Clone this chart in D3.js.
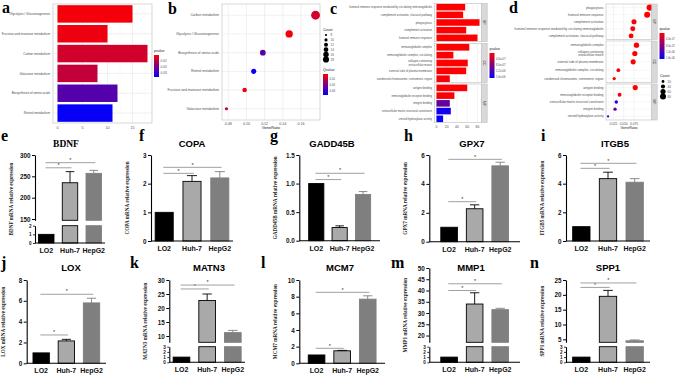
<!DOCTYPE html>
<html>
<head>
<meta charset="utf-8">
<script src="https://cdn.jsdelivr.net/npm/d3@7"></script>
<style>
  body { margin: 0; background: #fff; }
  text { font-family: "Liberation Sans", Arial, sans-serif; }
</style>
</head>
<body>
<svg id="fig" width="676" height="377"></svg>
<script>
// ---------- KEGG (panels a, b) ----------
const keggTerms = ["Glycolysis / Gluconeogenesis", "Fructose and mannose metabolism", "Carbon metabolism",
                   "Galactose metabolism", "Biosynthesis of amino acids", "Retinol metabolism"];
const keggCount = [15, 10, 18, 8, 12, 11];
const keggP     = [0.002, 0.003, 0.007, 0.009, 0.025, 0.036];
const keggRatio = [0.147, 0.098, 0.176, 0.078, 0.118, 0.108];
const keggTicks = [0, 5, 10, 15];
const ratioTicks = [0.08, 0.10, 0.12, 0.14, 0.16];
const pLegendTicks = [0.01, 0.02, 0.03];

// ---------- GO (panels c, d) ----------
const goOnt = ["BP","BP","BP","BP","BP","CC","CC","CC","CC","CC","MF","MF","MF","MF","MF"];
const goTerms = [
  "humoral immune response mediated by circulating immunoglobulin", "complement activation, classical pathway",
  "phagocytosis", "complement activation", "humoral immune response",
  "immunoglobulin complex", "immunoglobulin complex, circulating", "collagen-containing\nextracellular matrix",
  "external side of plasma membrane", "condensed chromosome, centromeric region",
  "antigen binding", "immunoglobulin receptor binding", "integrin binding",
  "extracellular matrix structural constituent", "steroid hydroxylase activity"];
const goCount = [56, 52, 84, 58, 80, 64, 33, 61, 58, 26, 60, 35, 26, 28, 13];
const goRatio = [0.072, 0.068, 0.113, 0.075, 0.107, 0.081, 0.037, 0.077, 0.073, 0.027, 0.078, 0.040, 0.029, 0.032, 0.012];
const goP     = [2e-8, 2e-8, 1e-8, 2e-8, 1e-8, 1e-8, 5e-8, 1e-8, 2e-8, 6e-8, 1e-8, 5e-8, 1.0e-6, 1.55e-6, 1.6e-6];
const goCountTicks = [0, 20, 40, 60, 80];
const goRatioTicks = [0.025, 0.050, 0.075];
const goLegendTicks = [4e-7, 8e-7, 1.2e-6, 1.6e-6];
const goSizeTicks = [20, 40, 60, 80];

// ---------- qPCR (panels e - n) ----------
const cellLines = ["LO2", "Huh-7", "HepG2"];
const genes = ["BDNF", "COPA", "GADD45B", "GPX7", "ITGB5", "LOX", "MATN3", "MCM7", "MMP1", "SPP1"];
const means = [[1, 235, 257], [1, 2.08, 2.2], [1, 0.23, 0.81], [1, 2.28, 5.25], [1, 4.35, 4.1],
               [1, 2.15, 5.8], [1, 22.7, 11.2], [1, 1.5, 7.7], [1, 34, 31.5], [1, 19.5, 4.5]];
const errs  = [[0, 26, 7], [0, 0.2, 0.22], [0, 0.03, 0.05], [0, 0.27, 0.25], [0, 0.45, 0.25],
               [0, 0.15, 0.45], [0, 2.3, 0.8], [0, 0.05, 0.4], [0, 5, 0.6], [0, 2, 0.3]];
// significance bars: [height of LO2-vs-Huh-7, height of LO2-vs-HepG2]
const sigY  = [[270, 282], [2.36, 2.57], [1.07, 1.18], [2.77, 5.7], [5.07, 5.42],
               [2.72, 6.63], [26.8, 28.2], [1.8, 8.52], [40, 43], [22.5, 24]];
const barTicks = [
  [[0, 1, 2], [150, 200, 250, 300]], [[0, 1, 2, 3]], [[0, 0.5, 1.0, 1.5]], [[0, 2, 4, 6]], [[0, 2, 4, 6]],
  [[0, 2, 4, 6, 8]], [[0, 1, 2, 3], [10, 15, 20, 25, 30]], [[0, 2, 4, 6, 8, 10]],
  [[0, 1, 2, 3], [20, 25, 30, 35, 40, 45, 50]], [[0, 1, 2, 3], [5, 10, 15, 20, 25]]];

const svg = d3.select("#fig");
const grey30 = "#4d4d4d";
const pColor = d3.scaleLinear().range(["#ff0000", "#0000ff"]).interpolate(d3.interpolateRgb);
const expFmt = t => t.toExponential(1).replace(/e([+-])(\d)$/, "e$10$2");

function letter(t, x, y) {
  svg.append("text").attr("x", x).attr("y", y).text(t)
    .style("font-family", "'Liberation Serif', serif").style("font-weight", "bold").style("font-size", "16px");
}

function panelFrame(g, x0, x1, y0, y1) {
  g.append("rect").attr("x", x0).attr("y", y0).attr("width", x1 - x0).attr("height", y1 - y0)
    .attr("fill", "#fff").attr("stroke", "#bdbdbd").attr("stroke-width", 0.6);
}

function colorbar(g, x, y, h, title, dom, ticks, fmt, fs) {
  const id = "grad" + Math.round(x);
  const grad = svg.append("defs").append("linearGradient").attr("id", id)
    .attr("x1", 0).attr("y1", 0).attr("x2", 0).attr("y2", 1);
  grad.append("stop").attr("offset", "0%").attr("stop-color", "#ff0000");
  grad.append("stop").attr("offset", "100%").attr("stop-color", "#0000ff");
  g.append("text").attr("x", x).attr("y", y - 3).text(title).style("font-size", "3.6px").attr("fill", "#222");
  g.append("rect").attr("x", x).attr("y", y).attr("width", 5).attr("height", h).attr("fill", `url(#${id})`);
  const s = d3.scaleLinear().domain(dom).range([y, y + h]);
  ticks.forEach(t => {
    g.append("text").attr("x", x + 6.5).attr("y", s(t) + 1).text(fmt(t))
      .style("font-size", fs || "3.2px").attr("fill", grey30);
  });
}

// ================= panel a =================
(function () {
  const g = svg.append("g");
  const x = d3.scaleLinear().domain([-0.9, 18.9]).range([53, 152]);
  const y = d3.scaleBand().domain(keggTerms).range([4, 123]).paddingInner(0.12).paddingOuter(0.06);
  pColor.domain([0.0005, 0.037]);
  panelFrame(g, 53, 152, 4, 123);
  [2.5, 7.5, 12.5, 17.5].forEach(t => g.append("line").attr("x1", x(t)).attr("x2", x(t)).attr("y1", 4).attr("y2", 123)
    .attr("stroke", "#f3f3f3").attr("stroke-width", 0.4));
  keggTicks.forEach(t => g.append("line").attr("x1", x(t)).attr("x2", x(t)).attr("y1", 4).attr("y2", 123)
    .attr("stroke", "#e6e6e6").attr("stroke-width", 0.6));
  keggTerms.forEach(t => g.append("line").attr("x1", 53).attr("x2", 152).attr("y1", y(t) + y.bandwidth() / 2)
    .attr("y2", y(t) + y.bandwidth() / 2).attr("stroke", "#e6e6e6").attr("stroke-width", 0.6));
  g.selectAll(".bar").data(keggTerms).join("rect")
    .attr("x", x(0)).attr("y", d => y(d)).attr("height", y.bandwidth())
    .attr("width", (d, i) => x(keggCount[i]) - x(0)).attr("fill", (d, i) => pColor(keggP[i]));
  g.selectAll(".lab").data(keggTerms).join("text")
    .attr("x", 50).attr("y", d => y(d) + y.bandwidth() / 2 + 1.1).attr("text-anchor", "end")
    .text(d => d).style("font-size", "3.1px").attr("fill", grey30);
  keggTicks.forEach(t => g.append("text").attr("x", x(t)).attr("y", 128.5).attr("text-anchor", "middle")
    .text(t).style("font-size", "3.6px").attr("fill", grey30));
  colorbar(g, 154, 55, 22, "pvalue", [0.0005, 0.037], pLegendTicks, d3.format(".2f"));
  letter("a", 2, 13);
})();

// ================= panel b =================
(function () {
  const g = svg.append("g");
  const order = d3.range(keggTerms.length).sort((a, b) => keggRatio[b] - keggRatio[a]);
  const x = d3.scaleLinear().domain([0.0731, 0.1809]).range([222, 320]);
  const y = d3.scalePoint().domain(order.map(i => keggTerms[i])).range([4, 120]).padding(0.6);
  const r = d3.scaleSqrt().domain([8, 18]).range([1.6, 4.4]);
  panelFrame(g, 222, 320, 4, 120);
  ratioTicks.forEach(t => g.append("line").attr("x1", x(t)).attr("x2", x(t)).attr("y1", 4).attr("y2", 120)
    .attr("stroke", "#e6e6e6").attr("stroke-width", 0.6));
  y.domain().forEach(t => g.append("line").attr("x1", 222).attr("x2", 320).attr("y1", y(t)).attr("y2", y(t))
    .attr("stroke", "#e6e6e6").attr("stroke-width", 0.6));
  order.forEach(i => {
    g.append("circle").attr("cx", x(keggRatio[i])).attr("cy", y(keggTerms[i])).attr("r", r(keggCount[i]))
      .attr("fill", pColor(keggP[i]));
    g.append("text").attr("x", 219).attr("y", y(keggTerms[i]) + 1.1).attr("text-anchor", "end")
      .text(keggTerms[i]).style("font-size", "3.3px").attr("fill", grey30);
  });
  ratioTicks.forEach(t => g.append("text").attr("x", x(t)).attr("y", 124.5).attr("text-anchor", "middle")
    .text(d3.format(".2f")(t)).style("font-size", "3.6px").attr("fill", grey30));
  g.append("text").attr("x", 271).attr("y", 129).attr("text-anchor", "middle").text("GeneRatio")
    .style("font-size", "3.8px").attr("fill", "#222");
  g.append("text").attr("x", 323).attr("y", 31).text("Count").style("font-size", "3.6px").attr("fill", "#222");
  [8, 10, 12, 14, 16, 18].forEach((c, k) => {
    const cy = 35 + k * 4.9;
    g.append("circle").attr("cx", 326).attr("cy", cy).attr("r", r(c) * 0.7).attr("fill", "#000");
    g.append("text").attr("x", 330.5).attr("y", cy + 1.1).text(c).style("font-size", "3px").attr("fill", grey30);
  });
  colorbar(g, 323, 74, 21, "Qvalue", [0.0005, 0.037], pLegendTicks, d3.format(".2f"), "2.9px");
  letter("b", 168, 14);
})();

// ================= GO helpers =================
const facetNames = ["BP", "CC", "MF"];
function strip(g, x, y0, y1, name) {
  g.append("rect").attr("x", x).attr("y", y0).attr("width", 5.5).attr("height", y1 - y0)
    .attr("fill", "#d9d9d9").attr("stroke", "#bdbdbd").attr("stroke-width", 0.5);
  g.append("text").attr("transform", `translate(${x + 1.6},${(y0 + y1) / 2}) rotate(90)`).attr("text-anchor", "middle")
    .text(name).style("font-size", "3.4px").attr("fill", "#222");
}
function termLabel(g, x, y, t, fs) {
  const lines = t.split("\n");
  lines.forEach((l, k) => g.append("text").attr("x", x).attr("y", y + 1 + (k - (lines.length - 1) / 2) * 3.4)
    .attr("text-anchor", "end").text(l).style("font-size", fs + "px").attr("fill", grey30));
}

// ================= panel c =================
(function () {
  const g = svg.append("g");
  const x = d3.scaleLinear().domain([-4.2, 88.2]).range([434.3, 481.7]);
  const col = d3.scaleLinear().domain([0, 1.65e-6]).range(["#ff0000", "#0000ff"]);
  const facetY = [[3.3, 41.7], [43.3, 82.7], [84, 122.7]];
  facetNames.forEach((f, fi) => {
    const idx = d3.range(goTerms.length).filter(i => goOnt[i] === f);
    const y = d3.scaleBand().domain(idx).range(facetY[fi]).paddingInner(0.15).paddingOuter(0.08);
    panelFrame(g, 434.3, 481.7, facetY[fi][0], facetY[fi][1]);
    goCountTicks.forEach(t => g.append("line").attr("x1", x(t)).attr("x2", x(t)).attr("y1", facetY[fi][0])
      .attr("y2", facetY[fi][1]).attr("stroke", "#e6e6e6").attr("stroke-width", 0.5));
    idx.forEach(i => {
      g.append("rect").attr("x", x(0)).attr("y", y(i)).attr("height", y.bandwidth())
        .attr("width", x(goCount[i]) - x(0)).attr("fill", col(goP[i]));
      termLabel(g, 432, y(i) + y.bandwidth() / 2, goTerms[i], 2.8);
    });
    strip(g, 481.7, facetY[fi][0], facetY[fi][1], f);
  });
  goCountTicks.forEach(t => g.append("text").attr("x", x(t)).attr("y", 127.5).attr("text-anchor", "middle")
    .text(t).style("font-size", "3.4px").attr("fill", grey30));
  colorbar(g, 489.5, 53, 25, "pvalue", [0, 1.65e-6], goLegendTicks, expFmt, "2.8px");
  letter("c", 330, 14);
})();

// ================= panel d =================
(function () {
  const g = svg.append("g");
  const x = d3.scaleLinear().domain([0.007, 0.118]).range([606, 651.7]);
  const col = d3.scaleLinear().domain([0, 1.65e-6]).range(["#ff0000", "#0000ff"]);
  const r = d3.scaleSqrt().domain([13, 84]).range([1.1, 3.1]);
  const facetY = [[4, 39.5], [41, 82.7], [84, 120]];
  facetNames.forEach((f, fi) => {
    const idx = d3.range(goTerms.length).filter(i => goOnt[i] === f).sort((a, b) => goRatio[b] - goRatio[a]);
    const y = d3.scalePoint().domain(idx).range(facetY[fi]).padding(0.5);
    panelFrame(g, 606, 651.7, facetY[fi][0], facetY[fi][1]);
    goRatioTicks.forEach(t => g.append("line").attr("x1", x(t)).attr("x2", x(t)).attr("y1", facetY[fi][0])
      .attr("y2", facetY[fi][1]).attr("stroke", "#e6e6e6").attr("stroke-width", 0.5));
    idx.forEach(i => {
      g.append("line").attr("x1", 606).attr("x2", 651.7).attr("y1", y(i)).attr("y2", y(i))
        .attr("stroke", "#ececec").attr("stroke-width", 0.4);
      g.append("circle").attr("cx", x(goRatio[i])).attr("cy", y(i)).attr("r", r(goCount[i])).attr("fill", col(goP[i]));
      termLabel(g, 603.5, y(i), goTerms[i], 3.0);
    });
    strip(g, 651.7, facetY[fi][0], facetY[fi][1], f);
  });
  goRatioTicks.forEach(t => g.append("text").attr("x", x(t)).attr("y", 124.5).attr("text-anchor", "middle")
    .text(d3.format(".3f")(t)).style("font-size", "3.2px").attr("fill", grey30));
  g.append("text").attr("x", 629).attr("y", 129).attr("text-anchor", "middle").text("GeneRatio")
    .style("font-size", "3.6px").attr("fill", "#222");
  colorbar(g, 659.5, 33, 26, "qvalue", [0, 1.65e-6], goLegendTicks, expFmt, "2.6px");
  g.append("text").attr("x", 660).attr("y", 77).text("Count").style("font-size", "3.6px").attr("fill", "#222");
  goSizeTicks.forEach((c, k) => {
    const cy = 81.5 + k * 5;
    g.append("circle").attr("cx", 663).attr("cy", cy).attr("r", r(c)).attr("fill", "#000");
    g.append("text").attr("x", 667.5).attr("y", cy + 1.1).text(c).style("font-size", "3px").attr("fill", grey30);
  });
  letter("d", 509, 13);
})();

// ================= qPCR bar panels =================
const barFill = ["#000000", "#a9a9a9", "#7f7f7f"];
const barStroke = ["#000000", "#000000", "#7f7f7f"];
const barLayout = [
  { l: "e", lx: 1,   ly: 141, x0: 35,    x1: 105, outer: 0.15, tx: 66,  ty: 147, segs: [[243, 225.7, 0, 2], [220.3, 155, 147, 300]] },
  { l: "f", lx: 139, ly: 141, x0: 151,   x1: 233, outer: 0.15, tx: 192, ty: 147, segs: [[241, 155, 0, 3]] },
  { l: "g", lx: 270, ly: 141, x0: 299.3, x1: 380, outer: 0.4,  tx: 332, ty: 147, segs: [[240.7, 155, 0, 1.5]] },
  { l: "h", lx: 404, ly: 141, x0: 429.3, x1: 520, outer: 0.45, tx: 472, ty: 147, segs: [[241.7, 155, 0, 6]] },
  { l: "i", lx: 541, ly: 141, x0: 566,   x1: 650, outer: 0.25, tx: 615, ty: 147, segs: [[241, 155, 0, 6]] },
  { l: "j", lx: 1,   ly: 268, x0: 26.7,  x1: 106, outer: 0.25, tx: 71,  ty: 271, segs: [[363.3, 280, 0, 8]] },
  { l: "k", lx: 130, ly: 268, x0: 169.3, x1: 245, outer: 0.15, tx: 209, ty: 271, segs: [[362.3, 346.7, 0, 3], [342.3, 280, 7.75, 30]] },
  { l: "l", lx: 261, ly: 268, x0: 299.3, x1: 385, outer: 0.35, tx: 340, ty: 271, segs: [[363.3, 280, 0, 10]] },
  { l: "m", lx: 391, ly: 268, x0: 429.3, x1: 520, outer: 0.45, tx: 471, ty: 271, segs: [[362.3, 346.7, 0, 3], [342.3, 268, 17, 50]] },
  { l: "n", lx: 530, ly: 268, x0: 566,   x1: 650, outer: 0.25, tx: 608, ty: 271, segs: [[362.3, 346.7, 0, 3], [342.3, 280, 4, 25]] }
];

genes.forEach((gene, gi) => {
  const L = barLayout[gi];
  const g = svg.append("g");
  const x = d3.scaleBand().domain(cellLines).range([L.x0, L.x1]).paddingInner(0.35).paddingOuter(L.outer);
  const ys = L.segs.map(s => d3.scaleLinear().domain([s[2], s[3]]).range([s[0], s[1]]));
  const top = ys[ys.length - 1];
  const yOf = v => { for (const s of ys) if (v <= s.domain()[1]) return s(v); return top(v); };

  // bars, split across axis segments
  cellLines.forEach((c, ci) => {
    const v = means[gi][ci];
    ys.forEach(s => {
      const [lo, hi] = s.domain();
      if (v <= lo) return;
      const vt = Math.min(v, hi);
      g.append("rect").attr("x", x(c)).attr("width", x.bandwidth())
        .attr("y", s(vt)).attr("height", s(lo) - s(vt))
        .attr("fill", barFill[ci]).attr("stroke", barStroke[ci]).attr("stroke-width", 0.9);
    });
    const e = errs[gi][ci];
    if (e > 0) {
      const cx = x(c) + x.bandwidth() / 2, w = x.bandwidth() * 0.28;
      g.append("line").attr("x1", cx).attr("x2", cx).attr("y1", yOf(v)).attr("y2", yOf(v + e))
        .attr("stroke", barStroke[ci]).attr("stroke-width", 0.9);
      g.append("line").attr("x1", cx - w).attr("x2", cx + w).attr("y1", yOf(v + e)).attr("y2", yOf(v + e))
        .attr("stroke", barStroke[ci]).attr("stroke-width", 0.9);
    }
  });

  // y axis segments
  ys.forEach((s, si) => {
    const small = Math.abs(s.range()[0] - s.range()[1]) < 20;
    const ax = d3.axisLeft(s).tickValues(barTicks[gi][si]).tickSize(small ? 2 : 3).tickSizeOuter(0).tickPadding(1.5)
      .tickFormat(gene === "GADD45B" ? d3.format(".1f") : d3.format("d"));
    const a = g.append("g").attr("transform", `translate(${L.x0},0)`).call(ax);
    a.select(".domain").attr("stroke-width", 1.1);
    a.selectAll(".tick line").attr("stroke-width", small ? 0.8 : 1);
    a.selectAll("text").style("font-size", small ? "4.6px" : "6.3px").style("font-weight", "bold").attr("fill", "#111");
  });

  // x axis
  const ax = d3.axisBottom(x).tickSize(0).tickPadding(5);
  const a = g.append("g").attr("transform", `translate(0,${ys[0](0)})`).call(ax);
  a.select(".domain").attr("d", `M${L.x0},0H${L.x1}`).attr("stroke-width", 1.1);
  a.selectAll("text").style("font-size", "7px").style("font-weight", "bold").attr("fill", "#111");

  // significance lines
  const c0 = x("LO2") + x.bandwidth() * 0.45;
  [1, 2].forEach((k, ki) => {
    const yy = yOf(sigY[gi][ki]);
    const x2 = x(cellLines[k]) + x.bandwidth() * 0.6;
    g.append("line").attr("x1", c0).attr("x2", x2).attr("y1", yy).attr("y2", yy)
      .attr("stroke", "#a0a0a0").attr("stroke-width", 1);
    g.append("text").attr("x", (c0 + x2) / 2).attr("y", yy - 0.8).attr("text-anchor", "middle").text("*")
      .style("font-size", "5.5px").attr("fill", "#333");
  });

  // titles
  g.append("text").attr("x", L.tx).attr("y", L.ty).attr("text-anchor", "middle").text(gene)
    .style("font-size", "9.5px").style("font-weight", "bold")
    .style("font-family", gene === "BDNF" ? "'Liberation Serif', serif" : "'Liberation Sans', Arial, sans-serif");
  const yMid = (ys[0].range()[0] + top.range()[1]) / 2;
  g.append("text").attr("transform", `translate(${L.x0 - 22},${yMid}) rotate(-90)`).attr("text-anchor", "middle")
    .text(gene + " mRNA relative expression").style("font-family", "'Liberation Serif', serif")
    .style("font-size", "5.2px").style("font-weight", "bold").attr("fill", "#222");
  letter(L.l, L.lx, L.ly);
});
</script>
</body>
</html>
